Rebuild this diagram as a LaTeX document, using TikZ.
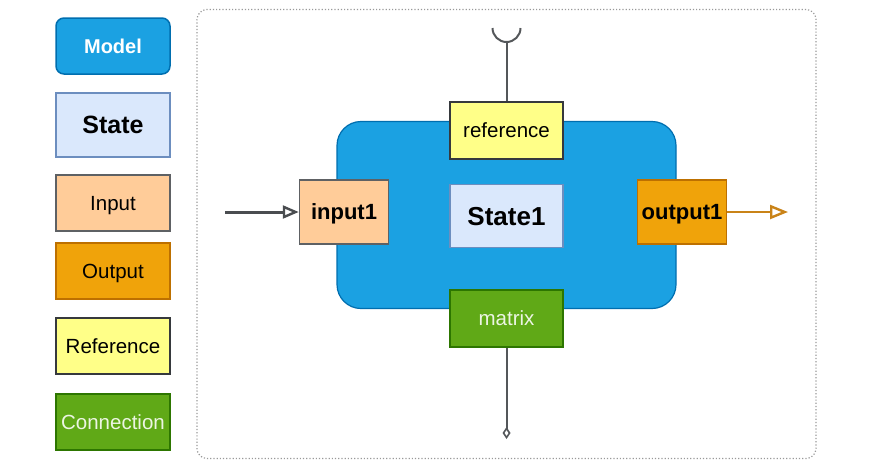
\documentclass[tikz,border=0pt]{standalone}
\usepackage{fontspec}
\setmainfont{Liberation Sans}
\usetikzlibrary{arrows.meta}
\definecolor{modelfill}{HTML}{1BA1E2}
\definecolor{modeldraw}{HTML}{006EAF}
\definecolor{statefill}{HTML}{DAE8FC}
\definecolor{statedraw}{HTML}{6C8EBF}
\definecolor{inputfill}{HTML}{FFCC99}
\definecolor{outputfill}{HTML}{F0A30A}
\definecolor{outputdraw}{HTML}{BD7000}
\definecolor{reffill}{HTML}{FFFF88}
\definecolor{darkline}{HTML}{36393D}
\definecolor{connfill}{HTML}{60A917}
\definecolor{conndraw}{HTML}{2D7600}
\definecolor{outarrow}{HTML}{C98318}
\tikzset{
  ftwenty/.style={font=\fontsize{20.5}{24}\selectfont, text height=14.7pt, text depth=0pt},
  ftwentyb/.style={font=\fontsize{20}{24}\selectfont\bfseries, text height=14.3pt, text depth=0pt},
  fport/.style={font=\fontsize{22}{26}\selectfont\bfseries, text height=15.8pt, text depth=0pt},
  fstate/.style={font=\fontsize{25}{30}\selectfont\bfseries, text height=17.9pt, text depth=0pt},
  fstatebig/.style={font=\fontsize{26}{30}\selectfont\bfseries, text height=18.6pt, text depth=0pt},
  legendbox/.style={minimum width=114pt, minimum height=56pt, inner sep=0pt, line width=1.5pt, ftwenty},
  modelbox/.style={fill=modelfill, draw=modeldraw, rounded corners=8pt, text=white, ftwentyb},
  statebox/.style={fill=statefill, draw=statedraw},
  inbox/.style={fill=inputfill, draw=darkline!80},
  outbox/.style={fill=outputfill, draw=outputdraw},
  refbox/.style={fill=reffill, draw=darkline},
  connbox/.style={fill=connfill, draw=conndraw, text=white!88!connfill},
  portbox/.style={minimum width=89pt, minimum height=64pt, inner sep=0pt, line width=1.5pt, fport},
  linkline/.style={draw=darkline!85, line width=2pt},
}
\begin{document}
\begin{tikzpicture}[x=1pt,y=-1pt]
\useasboundingbox (0,0) rectangle (890,472);
% legend
\node[legendbox, modelbox] (lmodel) at (113,46) {Model};
\node[legendbox, statebox, minimum height=64pt, fstate] (lstate) at (113,125) {State};
\node[legendbox, inbox] (linput) at (113,203) {Input};
\node[legendbox, outbox] (loutput) at (113,271) {Output};
\node[legendbox, refbox] (lref) at (113,346) {Reference};
\node[legendbox, connbox] (lconn) at (113,422) {Connection};
% container
\node[draw=gray!80, dotted, line width=1.2pt, rounded corners=10pt, minimum width=619pt, minimum height=449pt] (frame) at (506.5,234) {};
% model body
\node[fill=modelfill, draw=modeldraw, line width=1.2pt, rounded corners=24pt, minimum width=339pt, minimum height=187pt] (model) at (506.5,215) {};
% state
\node[statebox, line width=1.2pt, minimum width=113pt, minimum height=63pt, inner sep=0pt, fstatebig] (state1) at (506.5,216) {State1};
% reference port
\node[refbox, line width=1.5pt, minimum width=113pt, minimum height=57pt, inner sep=0pt, ftwenty] (ref) at (506.5,130.5) {reference};
% matrix port
\node[connbox, line width=1.5pt, minimum width=113pt, minimum height=57pt, inner sep=0pt, ftwenty] (matrix) at (506.5,318.5) {matrix};
% input / output
\node[portbox, inbox] (input1) at (344,212) {input1};
\node[portbox, outbox] (output1) at (682,212) {output1};
% connectors
\coordinate (insrc) at (225,212);
\coordinate (outdst) at (788,212);
\coordinate (sock) at (506.5,42);
\coordinate (diam) at (506.5,439);
\draw[draw=darkline!90, line width=3pt, -{Triangle[open, length=16pt, width=13pt, line width=2.4pt]}] (insrc) -- (input1.west);
\draw[draw=outarrow, line width=2.8pt, -{Triangle[open, length=18pt, width=14pt, line width=2.4pt]}] (output1.east) -- (outdst);
\draw[linkline] (ref.north) -- (sock);
\draw[linkline] ([xshift=-14pt,yshift=14pt]sock) arc[start angle=180, end angle=0, radius=14];
\draw[linkline, -{Diamond[open, length=12pt, width=8pt, line width=1.6pt]}] (matrix.south) -- (diam);
\end{tikzpicture}
\end{document}
